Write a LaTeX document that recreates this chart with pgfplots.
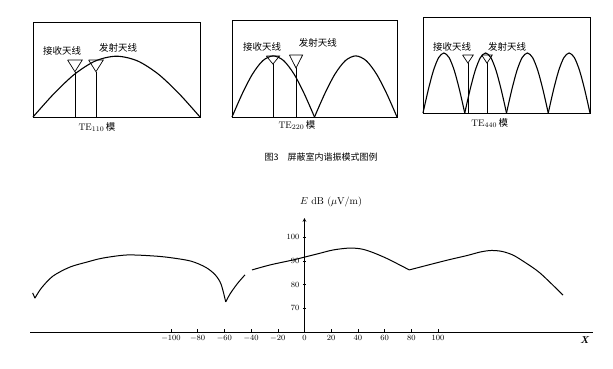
\documentclass[border=0pt]{standalone}
\usepackage{pgfplots}
\pgfplotsset{compat=1.18}
\usepackage{fontspec}
\newfontfamily\cjk{Noto Sans CJK SC}
\begin{document}
\begin{tikzpicture}
\path[use as bounding box] (0pt,0pt) rectangle (613pt,-368pt);
\tikzset{
  hump/.style={smooth, line width=1.1pt, black},
  ant/.style={line width=0.7pt, black},
  lab/.style={font=\cjk\fontsize{9.5}{11}\selectfont, inner sep=0pt},
  mode/.style={font=\fontsize{9.5}{11}\selectfont, inner sep=0pt},
}
\pgfplotsset{
  panel/.style={scale only axis, anchor=south west, xmin=0, xmax=1, ymin=0, ymax=1,
    xtick=\empty, ytick=\empty, clip=false, axis line style={line width=0.7pt}},
}
% ---------- panel 1 : TE110 ----------
\begin{axis}[panel, at={(33pt,-117pt)}, width=167pt, height=95pt]
\addplot[hump] coordinates {(0,0) (0.125,0.245) (0.25,0.452) (0.375,0.591) (0.5,0.64) (0.625,0.591) (0.75,0.452) (0.875,0.245) (1,0)};
\addplot[ant] coordinates {(0.251,0) (0.251,0.477)};
\addplot[ant] coordinates {(0.207,0.6) (0.295,0.6) (0.251,0.477) (0.207,0.6)};
\addplot[ant] coordinates {(0.377,0) (0.377,0.477)};
\addplot[ant] coordinates {(0.333,0.6) (0.421,0.6) (0.377,0.477) (0.333,0.6)};
\node[lab] at (axis cs:0.174,0.695) {接收天线};
\node[lab] at (axis cs:0.509,0.726) {发射天线};
\node[mode] at (axis cs:0.383,-0.105) {TE$_{110}$\,{\cjk 模}};
\end{axis}
% ---------- panel 2 : TE220 ----------
\begin{axis}[panel, at={(232pt,-117pt)}, width=165pt, height=97pt]
\addplot[hump] coordinates {(0,0) (0.0625,0.241) (0.125,0.445) (0.1875,0.582) (0.25,0.63) (0.3125,0.582) (0.375,0.445) (0.4375,0.241) (0.5,0)};
\addplot[hump] coordinates {(0.5,0) (0.5625,0.241) (0.625,0.445) (0.6875,0.582) (0.75,0.63) (0.8125,0.582) (0.875,0.445) (0.9375,0.241) (1,0)};
\addplot[ant] coordinates {(0.248,0) (0.248,0.546)};
\addplot[ant] coordinates {(0.208,0.629) (0.288,0.629) (0.248,0.546) (0.208,0.629)};
\addplot[ant] coordinates {(0.388,0) (0.388,0.505)};
\addplot[ant] coordinates {(0.348,0.639) (0.428,0.639) (0.388,0.505) (0.348,0.639)};
\node[lab] at (axis cs:0.182,0.722) {接收天线};
\node[lab] at (axis cs:0.521,0.763) {发射天线};
\node[mode] at (axis cs:0.394,-0.082) {TE$_{220}$\,{\cjk 模}};
\end{axis}
% ---------- panel 3 : TE440 ----------
\begin{axis}[panel, at={(423pt,-113pt)}, width=167pt, height=96pt]
\addplot[hump] coordinates {(0,0) (0.03125,0.239) (0.0625,0.442) (0.09375,0.577) (0.125,0.625) (0.15625,0.577) (0.1875,0.442) (0.21875,0.239) (0.25,0)};
\addplot[hump] coordinates {(0.25,0) (0.28125,0.239) (0.3125,0.442) (0.34375,0.577) (0.375,0.625) (0.40625,0.577) (0.4375,0.442) (0.46875,0.239) (0.5,0)};
\addplot[hump] coordinates {(0.5,0) (0.53125,0.239) (0.5625,0.442) (0.59375,0.577) (0.625,0.625) (0.65625,0.577) (0.6875,0.442) (0.71875,0.239) (0.75,0)};
\addplot[hump] coordinates {(0.75,0) (0.78125,0.239) (0.8125,0.442) (0.84375,0.577) (0.875,0.625) (0.90625,0.577) (0.9375,0.442) (0.96875,0.239) (1,0)};
\addplot[ant] coordinates {(0.269,0) (0.269,0.52)};
\addplot[ant] coordinates {(0.237,0.604) (0.301,0.604) (0.269,0.52) (0.237,0.604)};
\addplot[ant] coordinates {(0.383,0) (0.383,0.52)};
\addplot[ant] coordinates {(0.351,0.604) (0.415,0.604) (0.383,0.52) (0.351,0.604)};
\node[lab] at (axis cs:0.174,0.688) {接收天线};
\node[lab] at (axis cs:0.503,0.688) {发射天线};
\node[mode] at (axis cs:0.40,-0.104) {TE$_{440}$\,{\cjk 模}};
\end{axis}
% ---------- caption ----------
\node[font=\cjk\fontsize{9}{11}\selectfont, inner sep=0pt] at (321pt,-157pt) {图3\quad 屏蔽室内谐振模式图例};
% ---------- field strength chart ----------
\begin{axis}[scale only axis, anchor=south west, at={(30pt,-332pt)},
  width=563pt, height=114pt,
  xmin=-205.6, xmax=216.1, ymin=60, ymax=108.1,
  axis x line*=bottom, axis y line=middle,
  y axis line style={-stealth, line width=0.7pt},
  x axis line style={line width=0.8pt},
  xtick={-100,-80,-60,-40,-20,0,20,40,60,80,100},
  ytick={70,80,90,100},
  tick style={black, thin}, major tick length=3pt,
  ticklabel style={font=\footnotesize},
  every axis y label/.style={at={(axis cs:-6,115)}, anchor=west},
  every axis x label/.style={at={(axis cs:210,56.6)}, anchor=center},
  ylabel={$E$ dB ($\mu$V/m)}, xlabel={\textbf{\textit{X}}},
  clip=false]
\addplot[black, line width=1pt] coordinates {(-203.6,76.5) (-201.9,74.3)};
\addplot[black, line width=1pt, smooth] coordinates {
 (-201.9,74.3) (-197,78.6) (-188.4,83.6) (-175.7,87.4) (-163,89.5) (-151,91.2)
 (-133,92.5) (-113.5,92.1) (-100.7,91.4) (-85,89.9) (-74,87.3) (-67,84.2) (-62.5,80.2) (-59,72.7)};
\addplot[black, line width=1pt, smooth] coordinates {
 (-59,72.7) (-55.5,76.3) (-50,80.6) (-44.6,84.1)};
\addplot[black, line width=1pt, smooth] coordinates {
 (-39.3,86.2) (-25.8,88.3) (-8.6,90.4) (0,91.6) (10,93) (21.3,94.6) (33,95.4)
 (42,95.1) (50,93.8) (61.8,91) (78.5,86.2)};
\addplot[black, line width=1pt, smooth] coordinates {
 (78.5,86.2) (96.3,88.8) (109,90.6) (122,92.3) (132,93.8) (140,94.4) (148,94)
 (156,92.5) (164,89.8) (176.4,84.9) (193.6,75.6)};
\end{axis}
\end{tikzpicture}
\end{document}
